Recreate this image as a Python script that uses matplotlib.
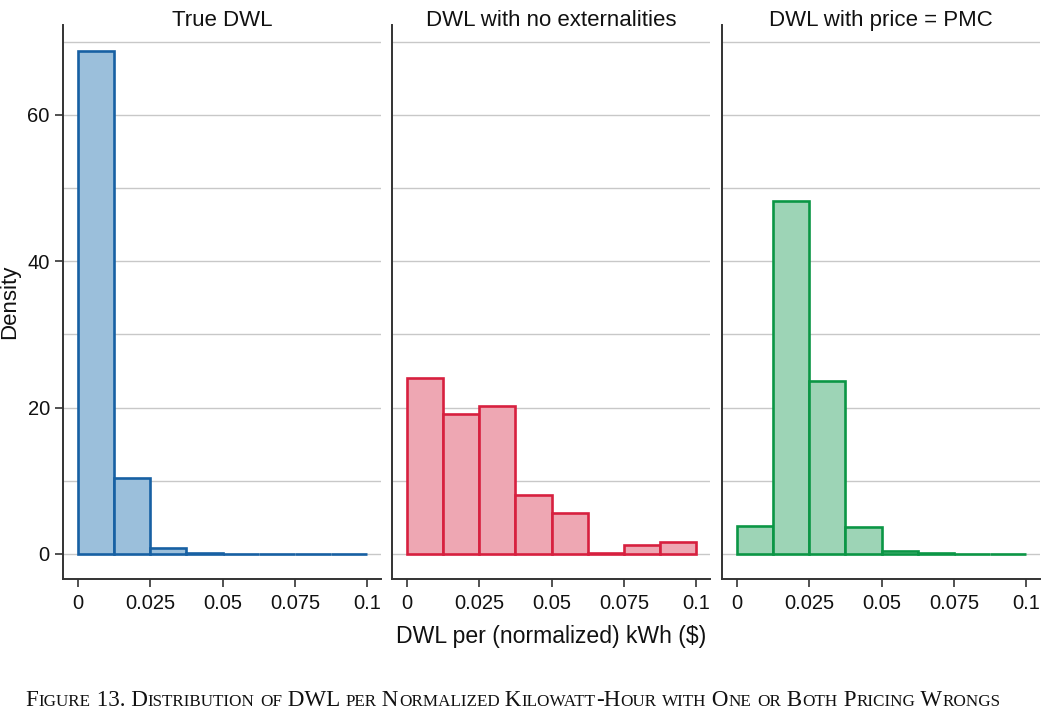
import numpy as np
import matplotlib
matplotlib.use("Agg")
import matplotlib.pyplot as plt
from matplotlib.offsetbox import HPacker, TextArea, AnchoredOffsetbox

# ---- data ----
bin_edges = [0, 0.0125, 0.025, 0.0375, 0.05, 0.0625, 0.075, 0.0875, 0.1]
panel_titles = ["True DWL", "DWL with no externalities", "DWL with price = PMC"]
dens_true = [68.8, 10.4, 0.8, 0.1, 0.05, 0.03, 0.02, 0.02]
dens_noext = [24.0, 19.2, 20.2, 8.0, 5.6, 0.2, 1.2, 1.6]
dens_pmc = [3.8, 48.2, 23.7, 3.7, 0.4, 0.13, 0.05, 0.03]
x_ticks = [0, 0.025, 0.05, 0.075, 0.1]
x_ticklabels = ["0", "0.025", "0.05", "0.075", "0.1"]
y_ticks = [0, 20, 40, 60]
x_label = "DWL per (normalized) kWh ($)"
y_label = "Density"
caption = "Figure 13. Distribution of DWL per Normalized Kilowatt-Hour with One or Both Pricing Wrongs"

edge_colors = ["#1760a3", "#d7203f", "#0b9645"]
fill_colors = ["#9bbfdb", "#eea7b3", "#9dd4b6"]

plt.rcParams['font.family'] = ['Liberation Sans', 'DejaVu Sans']

fig = plt.figure(figsize=(10.47, 7.19), dpi=100)
W, H = 1047, 719
lefts = [63, 392, 722]
pw = 318
top_px, bot_px = 25, 579
ph = bot_px - top_px

series = [dens_true, dens_noext, dens_pmc]
edges = np.array(bin_edges)
widths = np.diff(edges)
for i in range(3):
    ax = fig.add_axes([lefts[i] / W, 1 - bot_px / H, pw / W, ph / H])
    ax.set_xlim(-0.0052, 0.1048)
    ax.set_ylim(-3.42, 72.3)
    for g in range(0, 80, 10):
        ax.axhline(g, color="#c8c8c8", lw=1.0, zorder=0)
    ax.bar(edges[:-1], series[i], width=widths, align="edge",
           color=fill_colors[i], edgecolor=edge_colors[i], linewidth=1.9, zorder=2)
    for s in ["top", "right"]:
        ax.spines[s].set_visible(False)
    for s in ["left", "bottom"]:
        ax.spines[s].set_color("#333333")
        ax.spines[s].set_linewidth(1.4)
    ax.set_xticks(x_ticks)
    ax.set_xticklabels(x_ticklabels)
    ax.set_yticks(y_ticks)
    ax.tick_params(axis="both", labelsize=14.5, length=6, width=1.2, color="#333333", labelcolor="#111111")
    ax.tick_params(axis="x", pad=5)
    if i > 0:
        ax.tick_params(axis="y", left=False, labelleft=False)
    ax.text(0.5, 1 - 1.0 / ph, panel_titles[i], transform=ax.transAxes, ha="center",
            va="baseline", fontsize=16, color="#111111")
    if i == 0:
        ax.set_ylabel(y_label, fontsize=16, color="#111111", labelpad=5)

fig.text(551 / W, 1 - 636 / H, x_label, ha="center", va="center", fontsize=16.6, color="#111111")

# small-caps caption
big, small = 16.6, 12.3
children = []
run = ""
run_small = None
def flush(r, sm):
    if r:
        children.append(TextArea(r, textprops=dict(fontsize=small if sm else big,
                                                    family="Liberation Serif", color="#111111")))
for ch in caption:
    sm = ch.islower()
    if run_small is None:
        run_small = sm
    if sm != run_small:
        flush(run, run_small)
        run = ""
        run_small = sm
    run += ch.upper()
flush(run, run_small)
pack = HPacker(children=children, align="baseline", pad=0, sep=0)
ab = AnchoredOffsetbox(loc="center", child=pack, frameon=False,
                       bbox_to_anchor=(513 / W, 1 - 700 / H), bbox_transform=fig.transFigure, pad=0, borderpad=0)
fig.add_artist(ab)

fig.savefig("out.png", dpi=100)
